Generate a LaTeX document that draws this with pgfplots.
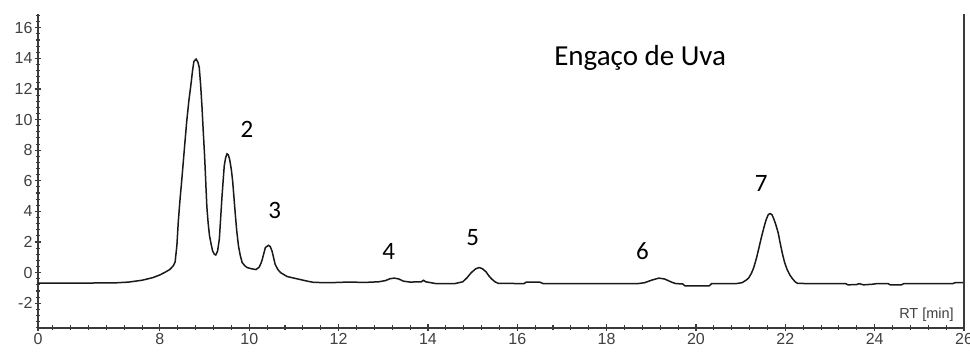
\documentclass[border=0pt]{standalone}
\usepackage{pgfplots}
\pgfplotsset{compat=1.18}
\usepackage{fontspec}
\setmainfont{Carlito}
\newfontfamily\arial{Liberation Sans}
\definecolor{axgray}{HTML}{3A3A3A}
\definecolor{tickgray}{HTML}{404040}
\pgfplotstableread{
x y
5.27 -0.68
6.5 -0.68
7.0 -0.67
7.3 -0.62
7.6 -0.5
7.84 -0.33
8.0 -0.15
8.1 0.0
8.22 0.2
8.3 0.45
8.34 0.7
8.38 1.8
8.41 3.3
8.45 4.8
8.49 6.1
8.55 8.2
8.6 9.9
8.65 11.3
8.69 12.2
8.73 13.2
8.76 13.8
8.81 13.95
8.85 13.75
8.88 13.4
8.91 12.3
8.94 10.9
8.97 9.2
9.0 7.6
9.05 4.3
9.08 3.2
9.11 2.4
9.15 1.8
9.18 1.4
9.22 1.2
9.25 1.15
9.29 1.4
9.33 2.2
9.36 3.6
9.39 5.0
9.44 7.0
9.47 7.5
9.5 7.76
9.53 7.7
9.56 7.4
9.6 6.7
9.63 5.9
9.69 3.7
9.72 2.7
9.76 1.7
9.8 1.1
9.84 0.66
9.9 0.45
9.95 0.33
10.05 0.25
10.15 0.2
10.22 0.35
10.26 0.6
10.29 0.86
10.33 1.3
10.36 1.64
10.43 1.78
10.47 1.7
10.51 1.4
10.55 0.9
10.58 0.53
10.64 0.2
10.7 0.0
10.85 -0.26
11.0 -0.36
11.15 -0.46
11.3 -0.56
11.44 -0.64
11.8 -0.66
12.2 -0.62
12.6 -0.64
12.9 -0.6
13.05 -0.52
13.15 -0.4
13.25 -0.36
13.35 -0.42
13.45 -0.56
13.6 -0.62
13.85 -0.6
13.9 -0.5
13.95 -0.6
14.18 -0.72
14.6 -0.72
14.78 -0.6
14.87 -0.35
14.97 0.0
15.07 0.25
15.15 0.33
15.22 0.25
15.3 0.05
15.36 -0.2
15.42 -0.4
15.5 -0.6
15.57 -0.7
16.15 -0.72
16.2 -0.62
16.5 -0.62
16.58 -0.72
18.7 -0.72
18.85 -0.66
19.0 -0.5
19.17 -0.36
19.3 -0.42
19.45 -0.62
19.55 -0.72
19.7 -0.74
19.75 -0.86
20.3 -0.86
20.35 -0.72
20.9 -0.72
21.03 -0.66
21.12 -0.5
21.18 -0.35
21.24 -0.05
21.29 0.3
21.35 0.9
21.4 1.5
21.46 2.25
21.52 2.94
21.57 3.45
21.62 3.8
21.66 3.86
21.7 3.78
21.73 3.6
21.78 3.2
21.84 2.6
21.88 2.0
21.93 1.3
21.98 0.7
22.04 0.2
22.1 -0.15
22.16 -0.4
22.22 -0.6
22.27 -0.7
22.5 -0.72
23.35 -0.72
23.4 -0.8
23.6 -0.78
23.65 -0.72
23.75 -0.8
23.95 -0.76
24.05 -0.72
24.3 -0.72
24.35 -0.8
24.6 -0.8
24.65 -0.72
25.75 -0.72
25.8 -0.66
26.0 -0.66
}\chrom
\begin{document}
\begin{tikzpicture}[x=1pt,y=1pt]
\useasboundingbox (0,0) rectangle (970,352);
\begin{axis}[
  at={(38pt,24pt)}, anchor=south west,
  scale only axis, width=926pt, height=314pt,
  xmin=5.27, xmax=26, ymin=-3.62, ymax=16.9,
  axis x line*=bottom, axis y line*=left,
  axis line style={axgray, line width=1.2pt, -},
  xtick={5.27,8,10,12,14,16,18,20,22,24,26},
  xticklabels={0,8,10,12,14,16,18,20,22,24,26},
  minor xtick={5.6,6.0,6.4,6.8,7.2,7.6,8.4,8.8,9.2,9.6,10.4,10.8,11.2,11.6,12.4,12.8,13.2,13.6,14.4,14.8,15.2,15.6,16.4,16.8,17.2,17.6,18.4,18.8,19.2,19.6,20.4,20.8,21.2,21.6,22.4,22.8,23.2,23.6,24.4,24.8,25.2,25.6},
  ytick={-2,0,2,4,6,8,10,12,14,16},
  minor ytick={-3.6,-3.2,-2.8,-2.4,-1.6,-1.2,-0.8,-0.4,0.4,0.8,1.2,1.6,2.4,2.8,3.2,3.6,4.4,4.8,5.2,5.6,6.4,6.8,7.2,7.6,8.4,8.8,9.2,9.6,10.4,10.8,11.2,11.6,12.4,12.8,13.2,13.6,14.4,14.8,15.2,15.6,16.4,16.8},
  tick align=center,
  major tick length=7pt, minor tick length=5pt,
  tick style={axgray, line width=1.1pt},
  /pgf/number format/assume math mode=true,
  ticklabel style={font=\arial\fontsize{16}{16}\selectfont, text=tickgray},
  yticklabel style={xshift=1.5pt},
  xticklabel style={yshift=2pt},
  clip=false,
]
\addplot[black!90, line width=1.5pt, mark=none] table[x=x,y=y] {\chrom};
\draw[axgray, line width=1.2pt] (rel axis cs:1,0) -- (rel axis cs:1,1);
\node[font=\fontsize{29}{31}\selectfont] at (axis cs:18.75,14.05) {Engaço de Uva};
\node[font=\fontsize{25}{27}\selectfont] at (axis cs:9.95,9.35) {2};
\node[font=\fontsize{25}{27}\selectfont] at (axis cs:10.57,4.05) {3};
\node[font=\fontsize{25}{27}\selectfont] at (axis cs:13.12,1.37) {4};
\node[font=\fontsize{25}{27}\selectfont] at (axis cs:15.0,2.29) {5};
\node[font=\fontsize{25}{27}\selectfont] at (axis cs:18.8,1.37) {6};
\node[font=\fontsize{25}{27}\selectfont] at (axis cs:21.46,5.82) {7};
\node[anchor=east, font=\arial\fontsize{14.5}{15}\selectfont, text=tickgray] at (axis cs:25.85,-2.75) {RT [min]};
\end{axis}
\end{tikzpicture}
\end{document}
